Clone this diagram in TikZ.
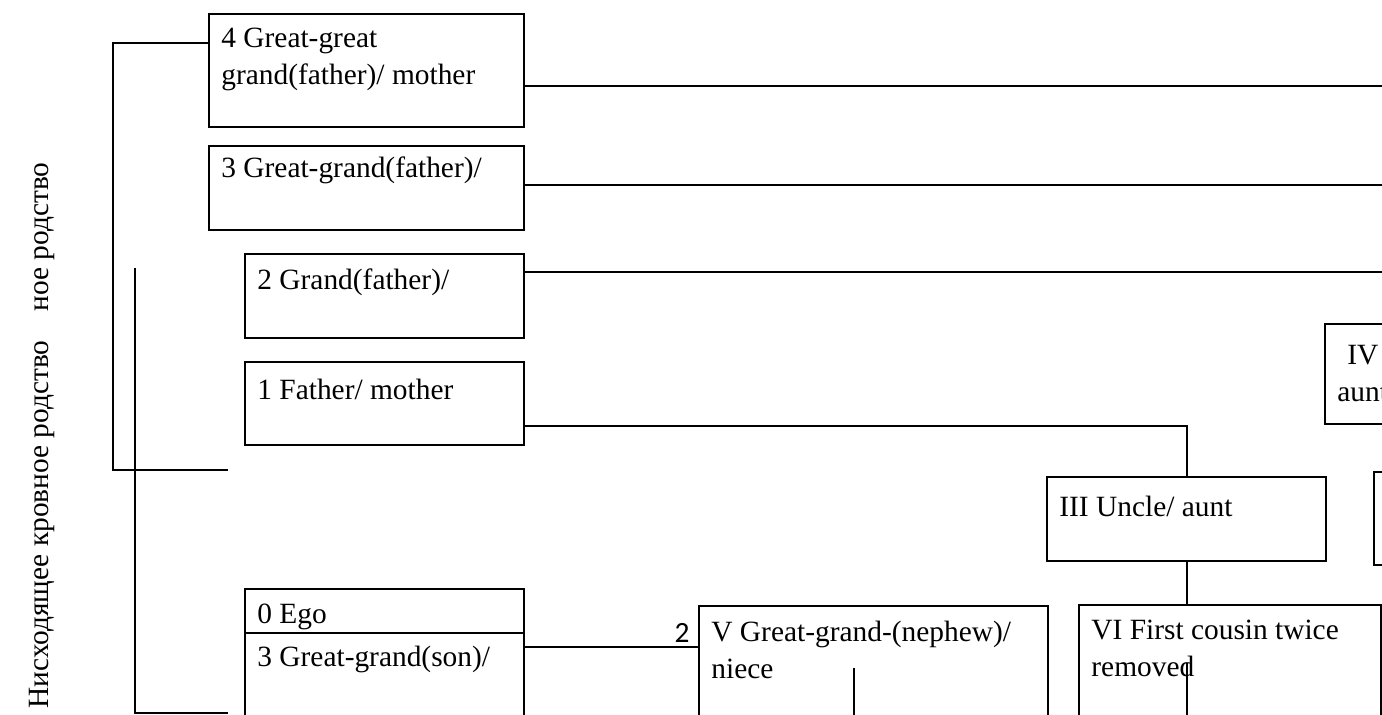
\documentclass[tikz,border=0pt]{standalone}
\usepackage{fontspec}
\setmainfont{Liberation Serif}
\newfontfamily\digitfont{Carlito}
\usepackage{tikz}
\usetikzlibrary{positioning}
\newcommand\kinfont{\fontsize{14.7pt}{18.5pt}\selectfont}

\begin{document}
\begin{tikzpicture}[x=0.5pt, y=-0.5pt, kin/.style = {rectangle, draw, line width=1pt, anchor=north west, inner sep=0pt}, txt/.style = {font=\kinfont, align=left, inner sep=0pt}, num/.style = {font=\digitfont\kinfont, inner sep=0pt, anchor=base east}, line/.style = {draw, line width=1pt}, node distance = 9pt and 6.5pt]
	\useasboundingbox (0,0) rectangle (1382,715);
	\clip (0,0) rectangle (1382,715);

	\node[kin, minimum width=157.5pt, minimum height=56.5pt] (ggg) at (208,13) {};
	\node[kin, minimum width=157.5pt, minimum height=42pt] (gg) at (208,145) {};
	\node[kin, minimum width=139.5pt, minimum height=42pt] (g) at (244,253) {};
	\node[kin, minimum width=139.5pt, minimum height=41.5pt] (par) at (244,361) {};
	\node[kin, minimum width=139.5pt, minimum height=22pt] (ego) at (244,588) {};
	\node[kin, minimum width=139.5pt, minimum height=50pt] (ggs) at (244,632) {};
	\node[kin, minimum width=174.5pt, minimum height=60pt] (ggn) at (698,605) {};
	\node[kin, minimum width=139.5pt, minimum height=42pt] (unc) at (1046,476) {};
	\node[kin, minimum width=151pt, minimum height=60pt] (cous) at (1078,604) {};
	\node[kin, minimum width=50pt, minimum height=50pt] (gu) at (1324,323) {};
	\node[kin, minimum width=50pt, minimum height=46.5pt] (fc) at (1373,471) {};

	\node[txt, below right=7.5pt and 6.5pt of ggg.north west] (ggg-t) {4 Great-great\\grand(father)/ mother};
	\node[txt, below right=5.5pt and 6.5pt of gg.north west] (gg-t) {3 Great-grand(father)/};
	\node[txt, below right=7.5pt and 6.5pt of g.north west] (g-t) {2 Grand(father)/};
	\node[txt, below right=of par.north west] (par-t) {1 Father/ mother};
	\node[txt, below right=8pt and 6.5pt of ego.north west] (ego-t) {0 Ego};
	\node[txt, below right=7pt and 6.5pt of ggs.north west] (ggs-t) {3 Great-grand(son)/};
	\node[txt, below right=8pt and 6.5pt of ggn.north west] (ggn-t) {V Great-grand-(nephew)/\\niece};
	\node[txt, below right=10pt and 6.5pt of unc.north west] (unc-t) {III Uncle/ aunt};
	\node[txt, below right=8pt and 6.5pt of cous.north west] (cous-t) {VI First cousin twice\\removed};
	\node[txt, below right=11pt and 6.5pt of gu.north west] (gu-t) {\hspace*{5pt}IV\\aunt};
	\node[num] (two) at (690,643) {2};

	\node[txt, rotate=90, anchor=base west] (desc) at (48,709) {Нисходящее кровное родство};
	\node[txt, rotate=90, anchor=base west] (asc) at (48,312) {ное родство};

	\coordinate (e4) at (1390,86);
	\coordinate (e3) at (1390,185);
	\coordinate (e2) at (1390,272);
	\coordinate (j1) at (0,426);
	\coordinate (j2) at (0,647);
	\coordinate (v1) at (854,668);
	\coordinate (v2) at (1187,663);
	\coordinate (b1) at (113,43);
	\coordinate (b1e) at (228,470);
	\coordinate (b2) at (135,268);
	\coordinate (b2e) at (228,713);

	\path[line] (ggg.east |- e4) -- (e4);
	\path[line] (gg.east |- e3) -- (e3);
	\path[line] (g.east |- e2) -- (e2);
	\path[line] (par.east |- j1) -| (unc.north);
	\path[line] (unc.south) -- (unc.south |- cous.north);
	\path[line] (ggs.east |- j2) -- (ggn.west |- j2);
	\path[line] (v1) -- (v1 |- ggn.south);
	\path[line] (v2) -- (v2 |- cous.south);
	\path[line] (ggg.west |- b1) -- (b1) |- (b1e);
	\path[line] (b2) |- (b2e);
\end{tikzpicture}
\end{document}
